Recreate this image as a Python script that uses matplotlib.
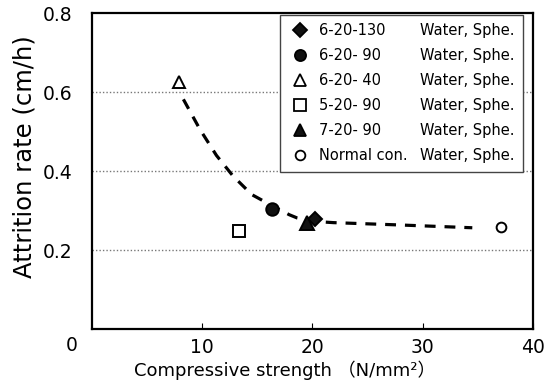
import matplotlib
matplotlib.use("Agg")
import matplotlib.pyplot as plt
from matplotlib.lines import Line2D

plt.rcParams['font.family'] = ['DejaVu Sans', 'Noto Sans CJK JP']

# samples: (label, compressive strength, attrition rate)
names = ["6-20-130", "6-20- 90", "6-20- 40", "5-20- 90", "7-20- 90", "Normal con."]
strength = [20.2, 16.3, 7.9, 13.3, 19.5, 37.1]
attrition = [0.280, 0.305, 0.627, 0.249, 0.270, 0.260]
markers = ["D", "o", "^", "s", "^", "o"]
filled = [True, True, False, False, True, False]
sizes = [7, 9, 9, 8, 10, 7]
condition = "Water, Sphe."

# hand-drawn trend curve
trend_x = [8.3, 9.8, 11.3, 12.8, 14.5, 16.2, 17.9, 18.6, 20.2, 21.9, 28.0, 34.5]
trend_y = [0.582, 0.506, 0.440, 0.388, 0.341, 0.315, 0.290, 0.282, 0.273, 0.270, 0.264, 0.257]

fig = plt.figure(figsize=(5.5, 3.87), dpi=100)
ax = fig.add_axes([0.167, 0.149, 0.802, 0.817])

for y in [0.2, 0.4, 0.6]:
    ax.axhline(y, color="#777777", linestyle=(0, (1, 1.5)), linewidth=1.0, zorder=1)

ax.plot(trend_x, trend_y, color="black", linewidth=2.3,
        linestyle=(0, (3.4, 2.8)), zorder=2)

handles = []
for i in range(len(names)):
    fc = "#111111" if filled[i] else "white"
    ax.plot(strength[i], attrition[i], marker=markers[i], markersize=sizes[i],
            markerfacecolor=fc, markeredgecolor="black", markeredgewidth=1.4,
            linestyle="none", zorder=4)
    handles.append(Line2D([], [], marker=markers[i], markersize=min(sizes[i], 8),
                          markerfacecolor=fc, markeredgecolor="black",
                          markeredgewidth=1.3, linestyle="none"))

# second legend column: condition text with an empty handle
blank = [Line2D([], [], linestyle="none") for _ in names]
leg = ax.legend(handles + blank, names + [condition] * len(names), ncol=2,
                loc="upper right", bbox_to_anchor=(0.977, 0.995), borderaxespad=0,
                fontsize=10.5, frameon=True, fancybox=False, edgecolor="#444444",
                framealpha=1, handlelength=1.6, handletextpad=0.5,
                columnspacing=-1.3, labelspacing=0.68, borderpad=0.6)
leg.get_frame().set_linewidth(1.0)
leg.set_zorder(5)

ax.set_xlim(0, 40)
ax.set_ylim(0, 0.8)
ax.set_xticks([10, 20, 30, 40])
ax.set_yticks([0.2, 0.4, 0.6, 0.8])
ax.set_yticklabels(["0.2", "0.4", "0.6", "0.8"])
ax.tick_params(axis="x", direction="in", length=4, width=0.8, labelsize=13.5, pad=6)
ax.tick_params(axis="y", length=0, labelsize=13.5, pad=14)
ax.text(-0.045, -0.05, "0", transform=ax.transAxes, fontsize=13.5,
        ha="center", va="center")

for s in ax.spines.values():
    s.set_linewidth(1.6)

ax.set_ylabel("Attrition rate (cm/h)", fontsize=17.5, labelpad=2)
ax.yaxis.set_label_coords(-0.125, 0.546)
ax.set_xlabel("Compressive strength （N/mm²）", fontsize=13, labelpad=1)
ax.xaxis.set_label_coords(0.437, -0.1)

fig.savefig("out.png", dpi=100)
